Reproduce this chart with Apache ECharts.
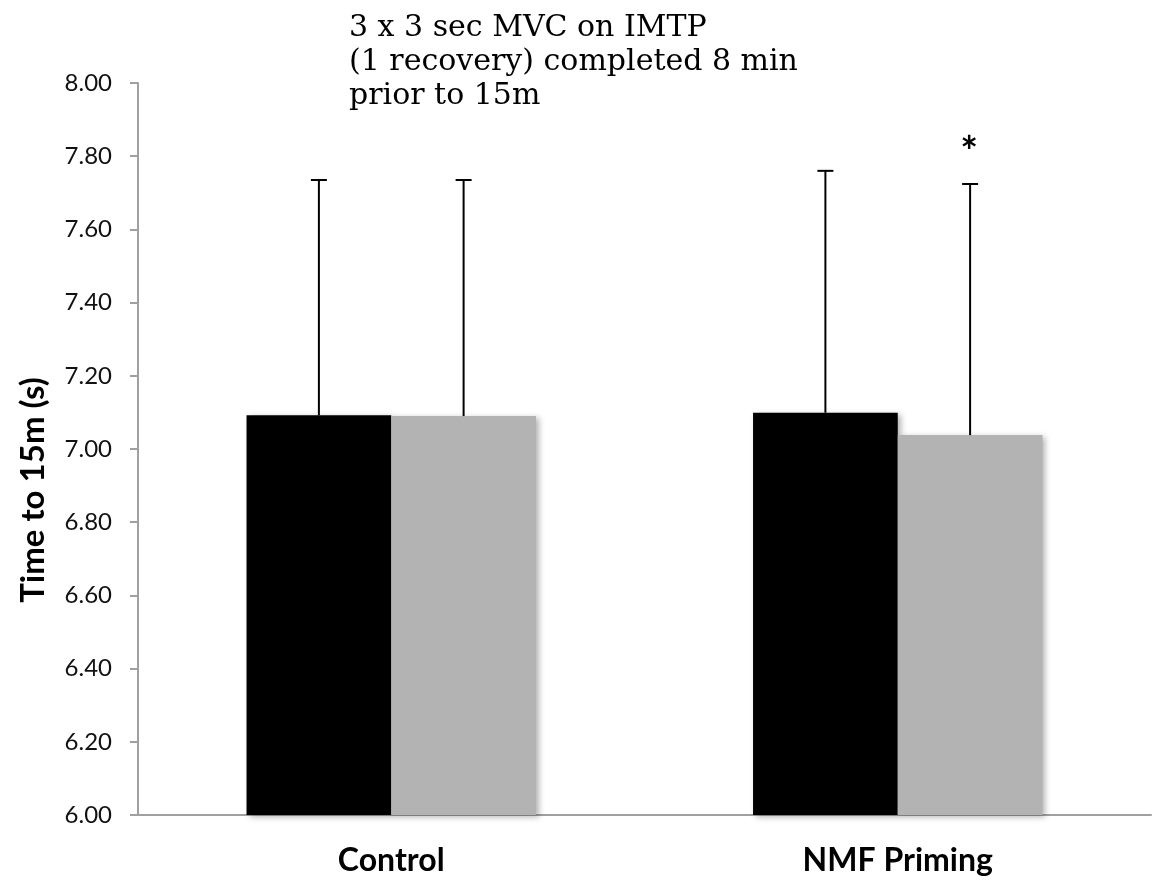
<!DOCTYPE html>
<html>
<head>
<meta charset="utf-8">
<script src="https://cdn.jsdelivr.net/npm/echarts@6/dist/echarts.min.js"></script>
<style>
  html, body { margin: 0; padding: 0; background: #ffffff; }
  #chart { width: 1152px; height: 886px; }
</style>
</head>
<body>
<div id="chart"></div>
<script>
// ---- data ----
const categories = ['Control', 'NMF Priming'];
const blackMeans = [7.092, 7.099];
const grayMeans  = [7.090, 7.038];
const blackSD    = [0.643, 0.661];
const graySD     = [0.645, 0.686];
const blackSig   = ['', ''];
const graySig    = ['', '*'];
const yMin = 6.0, yMax = 8.0, yStep = 0.2;
const yAxisTitle = 'Time to 15m (s)';
const annotation = '3 x 3 sec MVC on IMTP\n(1 recovery) completed 8 min\nprior to 15m';

const BAR_FRAC = 0.2857;

function errData(means, sds, sig) {
  return categories.map((c, i) => [i, means[i], sds[i], sig[i]]);
}

function makeErr(sideSign) {
  return function (params, api) {
    const cat = api.value(0), mean = api.value(1), sd = api.value(2);
    const flag = api.value(3);
    const band = api.size([1, 0])[0];
    const bw = band * BAR_FRAC;
    const base = api.coord([cat, mean]);
    const top = api.coord([cat, mean + sd]);
    const x = base[0] + sideSign * bw / 2;
    const ls = { stroke: '#000', lineWidth: 2 };
    const children = [
      { type: 'line', shape: { x1: x, y1: base[1], x2: x, y2: top[1] }, style: ls },
      { type: 'line', shape: { x1: x - 8, y1: top[1], x2: x + 8, y2: top[1] }, style: ls }
    ];
    if (flag && flag !== '-') {
      children.push({
        type: 'text',
        style: {
          text: String(flag), x: x - 1, y: top[1] - 31,
          font: 'bold 42px Lato', fill: '#000',
          textAlign: 'center', textVerticalAlign: 'middle'
        }
      });
    }
    return { type: 'group', children };
  };
}

const chart = echarts.init(document.getElementById('chart'), null, { renderer: 'canvas' });
const barShadow = { shadowBlur: 6, shadowColor: 'rgba(0,0,0,0.3)', shadowOffsetX: 3, shadowOffsetY: 2 };

chart.setOption({
  backgroundColor: '#ffffff',
  animation: false,
  grid: { left: 138, right: 1, top: 83, bottom: 71, containLabel: false },
  xAxis: {
    type: 'category',
    data: categories,
    axisLine: { lineStyle: { color: '#a0a0a0', width: 2 } },
    axisTick: { show: false },
    axisLabel: { fontFamily: 'Lato', fontWeight: 'bold', fontSize: 32, color: '#000', margin: 30 }
  },
  yAxis: {
    type: 'value',
    min: yMin, max: yMax, interval: yStep,
    name: yAxisTitle,
    nameLocation: 'middle',
    nameGap: 88,
    nameRotate: 90,
    nameTextStyle: { fontFamily: 'Lato', fontWeight: 'bold', fontSize: 33, color: '#000', padding: [0, 82, 0, 0] },
    axisLine: { show: true, lineStyle: { color: '#a0a0a0', width: 2 } },
    axisTick: { show: true, length: 8, lineStyle: { color: '#a0a0a0', width: 2 } },
    splitLine: { show: false },
    axisLabel: {
      fontFamily: 'Lato', fontSize: 24, color: '#111', margin: 26,
      formatter: v => v.toFixed(2)
    }
  },
  graphic: [{
    type: 'text', left: 349, top: 11,
    style: { text: annotation, font: '30px "DejaVu Serif"', lineHeight: 34, fill: '#000' }
  }],
  series: [
    {
      type: 'bar', data: blackMeans, barWidth: (BAR_FRAC * 100) + '%', barGap: '0%',
      itemStyle: Object.assign({ color: '#000000' }, barShadow)
    },
    {
      type: 'bar', data: grayMeans, barWidth: (BAR_FRAC * 100) + '%', barGap: '0%',
      itemStyle: Object.assign({ color: '#b3b3b3' }, barShadow)
    },
    { type: 'custom', renderItem: makeErr(-1), data: errData(blackMeans, blackSD, blackSig), z: 5 },
    { type: 'custom', renderItem: makeErr(1), data: errData(grayMeans, graySD, graySig), z: 5 }
  ]
});
</script>
</body>
</html>
